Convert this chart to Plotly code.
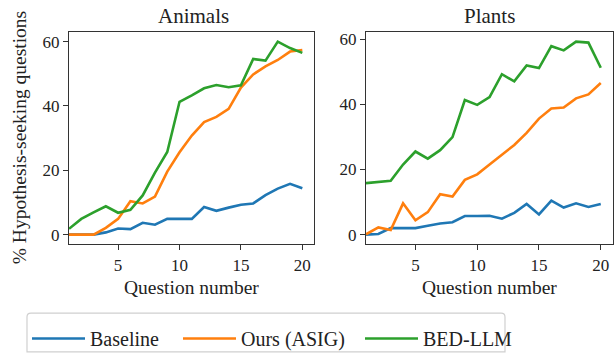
import plotly.graph_objects as go

questions = list(range(1, 21))

animals_baseline = [0, 0, 0, 0.7, 1.9, 1.7, 3.7, 3.1, 4.9, 4.9, 4.9, 8.6, 7.4, 8.4, 9.3, 9.7, 12.3, 14.3, 15.8, 14.4]
animals_ours = [0, 0, 0, 2.1, 4.9, 10.4, 9.7, 11.8, 19.6, 25.6, 30.8, 35.0, 36.6, 39.1, 45.7, 49.8, 52.3, 54.3, 56.9, 57.4]
animals_bed = [1.8, 4.9, 6.9, 8.8, 6.8, 7.7, 12.2, 19.3, 25.7, 41.3, 43.3, 45.5, 46.5, 45.8, 46.4, 54.6, 54.1, 60.0, 58.0, 56.5]

plants_baseline = [0, 0.2, 2.0, 2.0, 2.0, 2.7, 3.4, 3.8, 5.7, 5.7, 5.8, 4.9, 6.7, 9.4, 6.2, 10.4, 8.3, 9.6, 8.5, 9.4]
plants_ours = [0.1, 2.2, 1.4, 9.6, 4.4, 6.9, 12.4, 11.7, 16.8, 18.5, 21.5, 24.5, 27.5, 31.2, 35.6, 38.7, 39.0, 41.8, 43.0, 46.5]
plants_bed = [15.8, 16.1, 16.5, 21.5, 25.5, 23.3, 25.9, 29.9, 41.3, 39.8, 42.2, 49.2, 47.0, 51.9, 51.1, 57.8, 56.5, 59.2, 58.9, 51.2]

series_names = ["Baseline", "Ours (ASIG)", "BED-LLM"]
colors = ["#1f77b4", "#ff7f0e", "#2ca02c"]
panel_titles = ["Animals", "Plants"]
x_ticks = [5, 10, 15, 20]
y_ticks = [0, 20, 40, 60]

W, H = 614, 358
FONT = "Liberation Serif"

fig = go.Figure()

legend_ids = ["legend", "legend2", "legend3"]
panels = [
    ("x", "y", [animals_baseline, animals_ours, animals_bed]),
    ("x2", "y2", [plants_baseline, plants_ours, plants_bed]),
]
for pi, (xa, ya, data) in enumerate(panels):
    for si, vals in enumerate(data):
        fig.add_trace(go.Scatter(
            x=questions, y=vals, mode="lines", name=series_names[si],
            line=dict(color=colors[si], width=2.6),
            xaxis=xa, yaxis=ya, showlegend=(pi == 0), legend=legend_ids[si],
        ))

def px_x(p):
    return p / W

def px_y(p):
    return 1 - p / H

axis_common = dict(
    showgrid=False, zeroline=False, showline=True, linecolor="#333333", linewidth=1.3,
    mirror=True, ticks="outside", ticklen=5, tickwidth=1.2, tickcolor="#333333",
    tickfont=dict(family=FONT, size=17, color="#222222"),
)

legend_common = dict(
    orientation="h", xanchor="left", y=px_y(328), yanchor="top",
    borderwidth=0, bgcolor="rgba(0,0,0,0)",
    font=dict(family=FONT, size=20, color="#222222"),
    itemwidth=53,
)
legend_starts = [27, 178, 360]

fig.update_layout(
    width=W, height=H,
    margin=dict(l=0, r=0, t=0, b=0),
    paper_bgcolor="white", plot_bgcolor="white",
    font=dict(family=FONT, color="#222222"),
    xaxis=dict(domain=[px_x(69), px_x(314)], range=[1, 20.95], tickvals=x_ticks, anchor="y", **axis_common),
    yaxis=dict(domain=[px_y(250.7), px_y(31)], range=[-3, 63], tickvals=y_ticks, anchor="x", **axis_common),
    xaxis2=dict(domain=[px_x(366), px_x(612.5)], range=[1, 20.95], tickvals=x_ticks, anchor="y2", **axis_common),
    yaxis2=dict(domain=[px_y(250.7), px_y(31)], range=[-2.96, 62.16], tickvals=y_ticks, anchor="x2", **axis_common),
    legend=dict(x=px_x(legend_starts[0]), **legend_common),
    legend2=dict(x=px_x(legend_starts[1]), **legend_common),
    legend3=dict(x=px_x(legend_starts[2]), **legend_common),
)

# legend frame (rounded box)
r = 4
fig.add_shape(
    type="path", xref="paper", yref="paper",
    path=(f"M {px_x(27 + r)},{px_y(322)} L {px_x(505 - r)},{px_y(322)} "
          f"Q {px_x(505)},{px_y(322)} {px_x(505)},{px_y(322 + r)} L {px_x(505)},{px_y(362)} "
          f"L {px_x(27)},{px_y(362)} L {px_x(27)},{px_y(322 + r)} "
          f"Q {px_x(27)},{px_y(322)} {px_x(27 + r)},{px_y(322)} Z"),
    line=dict(color="#d0d0d0", width=1.2), fillcolor="rgba(0,0,0,0)", layer="below",
)

annotations = [
    dict(text=panel_titles[0], x=px_x(194), y=px_y(14), font=dict(size=21)),
    dict(text=panel_titles[1], x=px_x(489), y=px_y(14), font=dict(size=21)),
    dict(text="Question number", x=px_x(192), y=px_y(295), font=dict(size=19.5)),
    dict(text="Question number", x=px_x(489), y=px_y(295), font=dict(size=19.5)),
    dict(text="% Hypothesis-seeking questions", x=px_x(19), y=px_y(141), font=dict(size=19.5), textangle=-90),
]
for a in annotations:
    a.update(xref="paper", yref="paper", showarrow=False, xanchor="center", yanchor="middle")
    a["font"].update(family=FONT, color="#222222")
    fig.add_annotation(**a)

fig.write_html(
    "out.html",
    config={"displayModeBar": False},
    post_script="document.body.style.margin='0';document.body.style.padding='0';",
)
